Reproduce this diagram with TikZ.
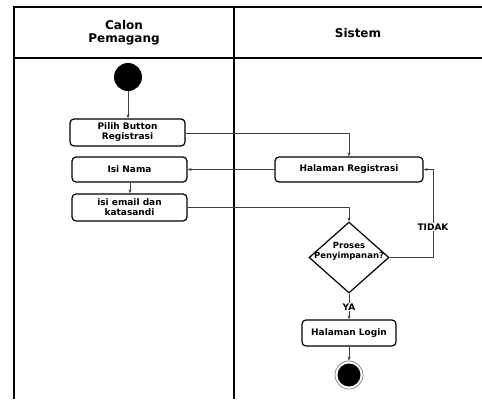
\documentclass[tikz,border=0pt]{standalone}
\usepackage{fontspec}
\setmainfont{DejaVu Sans}
\usetikzlibrary{shapes.geometric,arrows.meta}
\begin{document}
\begin{tikzpicture}[x=1pt,y=-1pt,
  lane/.style={line width=2.2pt,black},
  act/.style={draw,line width=1.2pt,rounded corners=4pt,align=center,inner sep=0pt,
              font=\bfseries\fontsize{9}{10}\selectfont},
  dec/.style={draw,line width=1.2pt,diamond,inner sep=0pt,align=center,
              font=\bfseries\fontsize{8.5}{10}\selectfont},
  flow/.style={draw=black!75,line width=0.6pt,-{Stealth[length=4pt,width=3pt]}},
  lbl/.style={font=\bfseries\fontsize{9}{10}\selectfont,fill=white,inner sep=1pt},
  hdr/.style={font=\bfseries\fontsize{12}{13}\selectfont,align=center}]
\useasboundingbox (0,0) rectangle (482,399);
% swimlane frame
\draw[lane] (14,399) -- (14,7) -- (483,7);
\draw[lane] (14,58) -- (483,58);
\draw[lane] (234,7) -- (234,399);
\node[hdr] (h1) at (124,33) {Calon\\Pemagang};
\node[hdr] (h2) at (358,33) {Sistem};
% start and end
\node[circle,fill=black,minimum size=28pt,inner sep=0pt] (start) at (128,77) {};
\node[circle,draw=black!45,line width=0.8pt,minimum size=28pt,inner sep=0pt] (endo) at (349,375) {};
\node[circle,fill=black,minimum size=23pt,inner sep=0pt] (endi) at (349,375) {};
% activities
\node[act,minimum width=115pt,minimum height=27pt] (pilih) at (127.5,132.5) {Pilih Button\\Registrasi};
\node[act,minimum width=115pt,minimum height=25pt] (nama) at (129.5,169.5) {Isi Nama};
\node[act,minimum width=115pt,minimum height=27pt] (email) at (129.5,207.5) {isi email dan\\katasandi};
\node[act,minimum width=148pt,minimum height=25pt] (reg) at (349,169.5) {Halaman Registrasi};
% decision: the label is allowed to run past the diamond's sides
\node[dec,minimum width=80pt,minimum height=71pt] (simpan) at (349,257.5)
  {\raisebox{4pt}[0pt][0pt]{\makebox[0pt]{Proses}}\\\raisebox{4pt}[0pt][0pt]{\makebox[0pt]{Penyimpanan?}}};
\node[act,minimum width=94pt,minimum height=26pt] (login) at (349,333) {Halaman Login};
% flows
\draw[flow] (start) -- (pilih.north -| start);
\draw[flow] (pilih.east |- 0,133) -| (reg.north);
\draw[flow] (reg.west) -- (nama.east);
\draw[flow] (nama.south -| 130,0) -- (email.north -| 130,0);
\draw[flow] (email.east) -| (simpan.north);
\coordinate (turn) at (433,257.5);
\draw[flow] (simpan.east) -- (turn) |- (reg.east);
\node[lbl] (tidak) at (433,227) {TIDAK};
\draw[flow] (simpan.south) -- (login.north);
\node[lbl] (ya) at (349,307) {YA};
\draw[flow] (login.south) -- (endo.north);
\end{tikzpicture}
\end{document}
